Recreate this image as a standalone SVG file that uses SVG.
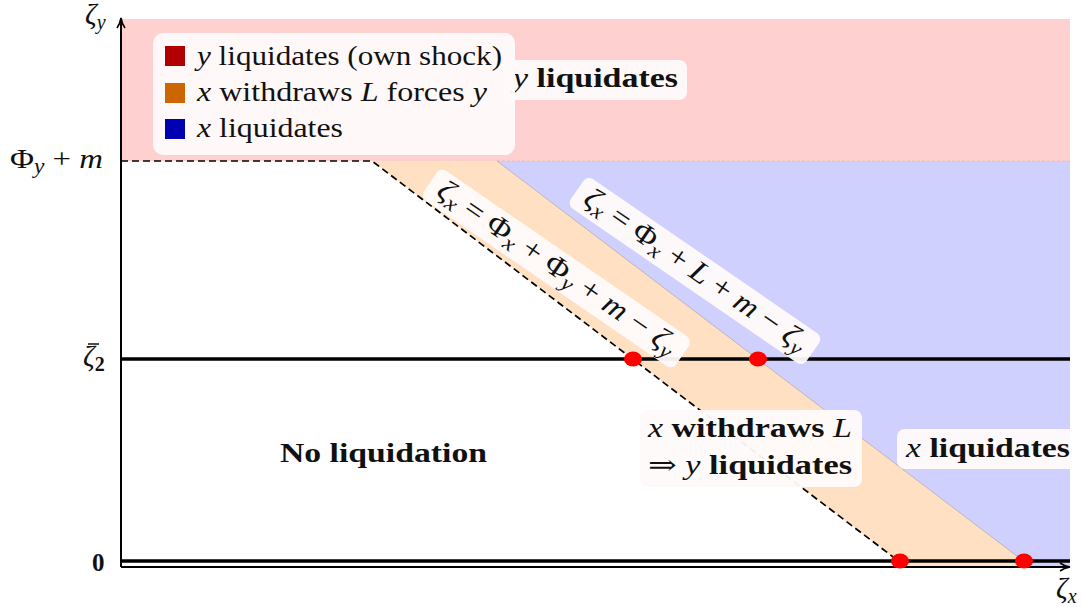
<svg xmlns="http://www.w3.org/2000/svg" width="1083" height="607" viewBox="0 0 1083 607">
<style>
.t{font-family:"Liberation Serif","DejaVu Serif",serif;fill:#111}
.i{font-style:italic}
.b{font-weight:bold}
.box{fill:#fffafa;fill-opacity:0.95}
.ax{stroke:#000;stroke-width:2;fill:none}
.lvl{stroke:#000;stroke-width:3.5}
.dash{stroke:#000;stroke-width:1.7;stroke-dasharray:7 4;fill:none}
.dot{fill:#ff0000}
</style>
<defs>
<clipPath id="plotclip"><rect x="121" y="0" width="949" height="607"/></clipPath>
</defs>

<g id="regions">
<rect id="region-y" x="121" y="19" width="949" height="142" fill="#ffd0d0"/>
<polygon id="region-x" points="497,161 1070,161 1070,566 1030,566" fill="#d0d0ff"/>
<polygon id="region-xy" points="372,161 497,161 1030,566 905,566" fill="#ffe0c2"/>
</g>

<g id="connectors">
<line class="lvl" x1="121" y1="359" x2="1070" y2="359"/>
<line class="lvl" x1="121" y1="561" x2="1070" y2="561"/>
<polyline class="dash" points="121,161 372,161 905,566"/>
<line x1="497" y1="161" x2="1030" y2="566" stroke="#777" stroke-width="0.7" stroke-opacity="0.6"/>
<line x1="497" y1="161" x2="1070" y2="161" stroke="#999" stroke-width="0.6" stroke-opacity="0.5" stroke-dasharray="3 2"/>
<path class="ax" d="M121,567 L121,20"/>
<path class="ax" d="M121,567 L1067,567"/>
<path d="M117,28 Q120,24 121,18 Q122,24 125,28" fill="none" stroke="#000" stroke-width="1.6"/>
<path d="M1060,563 Q1064,566 1070,567 Q1064,568 1060,571" fill="none" stroke="#000" stroke-width="1.6"/>
</g>

<g id="points">
<ellipse class="dot" cx="633" cy="359" rx="9" ry="7.5"/>
<ellipse class="dot" cx="758" cy="359" rx="9" ry="7.5"/>
<ellipse class="dot" cx="900" cy="561" rx="9" ry="7.5"/>
<ellipse class="dot" cx="1024" cy="561" rx="9" ry="7.5"/>
</g>

<g id="label-y-liquidates">
<rect class="box" x="504" y="60" width="183" height="40" rx="8"/>
<text class="t" x="513" y="87" font-size="27" textLength="165" lengthAdjust="spacingAndGlyphs"><tspan class="i">y</tspan> <tspan class="b">liquidates</tspan></text>
</g>

<g id="legend">
<rect class="box" x="153" y="33" width="362" height="122" rx="10"/>
<rect x="165" y="46" width="20" height="20" fill="#b00000"/>
<rect x="165" y="83" width="20" height="20" fill="#cc6600"/>
<rect x="165" y="119" width="20" height="20" fill="#0000b0"/>
<text class="t" x="197" y="65" font-size="28" textLength="305" lengthAdjust="spacingAndGlyphs"><tspan class="i">y</tspan> liquidates (own shock)</text>
<text class="t" x="197" y="101" font-size="28" textLength="290" lengthAdjust="spacingAndGlyphs"><tspan class="i">x</tspan> withdraws <tspan class="i">L</tspan> forces <tspan class="i">y</tspan></text>
<text class="t" x="197" y="137" font-size="28" textLength="146" lengthAdjust="spacingAndGlyphs"><tspan class="i">x</tspan> liquidates</text>
</g>

<g id="label-boundary-1" transform="translate(556.5,268.5) rotate(34.5)">
<rect class="box" x="-153" y="-18" width="306" height="36" rx="7"/>
<text class="t" x="-142" y="8" font-size="30" textLength="284" lengthAdjust="spacingAndGlyphs"><tspan class="i">ζ</tspan><tspan class="i" font-size="21" dy="5">x</tspan><tspan dy="-5"> = Φ</tspan><tspan class="i" font-size="21" dy="5">x</tspan><tspan dy="-5"> + Φ</tspan><tspan class="i" font-size="21" dy="5">y</tspan><tspan dy="-5"> + </tspan><tspan class="i">m</tspan> − <tspan class="i">ζ</tspan><tspan class="i" font-size="21" dy="5">y</tspan></text>
</g>

<g id="label-boundary-2" transform="translate(695,271) rotate(34.5)">
<rect class="box" x="-143" y="-18" width="286" height="36" rx="7"/>
<text class="t" x="-132" y="8" font-size="30" textLength="264" lengthAdjust="spacingAndGlyphs"><tspan class="i">ζ</tspan><tspan class="i" font-size="21" dy="5">x</tspan><tspan dy="-5"> = Φ</tspan><tspan class="i" font-size="21" dy="5">x</tspan><tspan dy="-5"> + </tspan><tspan class="i">L</tspan> + <tspan class="i">m</tspan> − <tspan class="i">ζ</tspan><tspan class="i" font-size="21" dy="5">y</tspan></text>
</g>

<g id="label-no-liquidation">
<text class="t b" x="280" y="462" font-size="27" textLength="207" lengthAdjust="spacingAndGlyphs">No liquidation</text>
</g>

<g id="label-contagion">
<rect class="box" x="640" y="410" width="222" height="77" rx="8"/>
<text class="t" x="648" y="437" font-size="27" textLength="204" lengthAdjust="spacingAndGlyphs"><tspan class="i">x</tspan> <tspan class="b">withdraws</tspan> <tspan class="i">L</tspan></text>
<text class="t" x="648" y="474" font-size="27" textLength="204" lengthAdjust="spacingAndGlyphs">⇒ <tspan class="i">y</tspan> <tspan class="b">liquidates</tspan></text>
</g>

<g id="label-x-liquidates" clip-path="url(#plotclip)">
<rect class="box" x="897" y="429" width="185" height="40" rx="8"/>
<text class="t" x="906" y="457" font-size="27" textLength="164" lengthAdjust="spacingAndGlyphs"><tspan class="i">x</tspan> <tspan class="b">liquidates</tspan></text>
</g>

<g id="axis-labels">
<text class="t" x="85" y="24" font-size="29"><tspan class="i">ζ</tspan><tspan class="i" font-size="20" dy="5">y</tspan></text>
<text class="t" x="10" y="168" font-size="28" textLength="93" lengthAdjust="spacingAndGlyphs">Φ<tspan class="i" font-size="20" dy="5">y</tspan><tspan dy="-5"> + </tspan><tspan class="i">m</tspan></text>
<text class="t" x="83" y="366" font-size="29"><tspan class="i">ζ</tspan><tspan class="b" font-size="20" dy="5">2</tspan></text>
<line x1="88" y1="344" x2="99" y2="344" stroke="#111" stroke-width="1.5"/>
<text class="t b" x="92" y="571" font-size="25">0</text>
<text class="t" x="1056" y="598" font-size="29"><tspan class="i">ζ</tspan><tspan class="i" font-size="20" dy="5">x</tspan></text>
</g>
</svg>
